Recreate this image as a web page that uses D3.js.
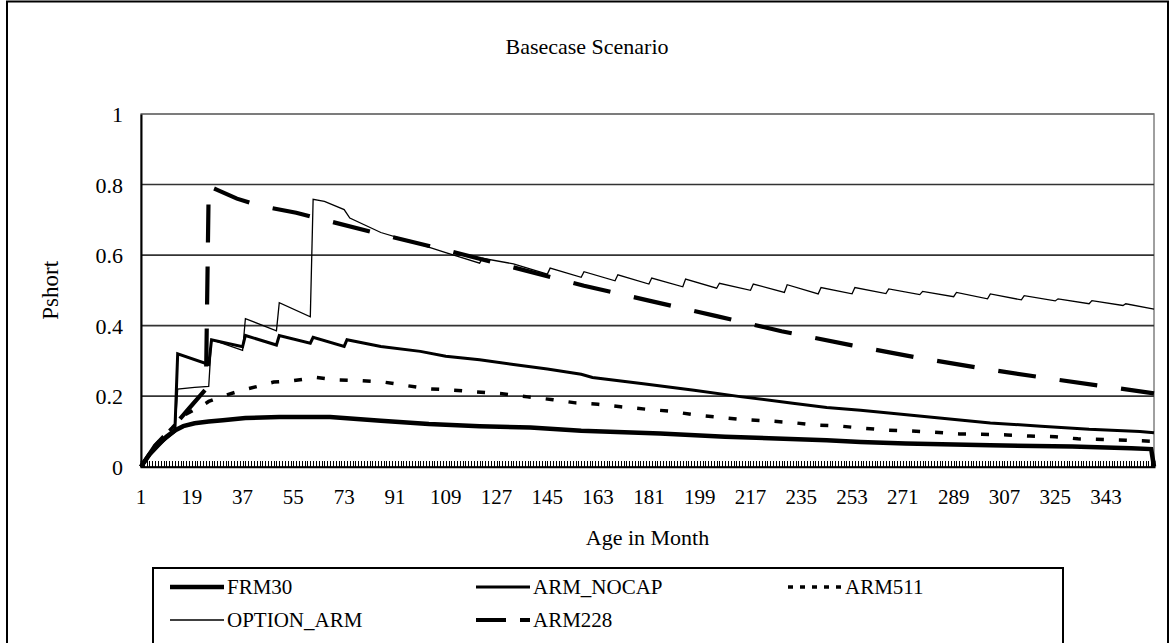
<!DOCTYPE html>
<html>
<head>
<meta charset="utf-8">
<script src="https://cdn.jsdelivr.net/npm/d3@7/dist/d3.min.js"></script>
<style>
  html, body { margin: 0; padding: 0; background: #fff; }
</style>
</head>
<body>
<svg id="chart" width="1170" height="643"></svg>
<script>
// ---------------- DATA ----------------
const chartTitle = "Basecase Scenario";
const xAxisTitle = "Age in Month";
const yAxisTitle = "Pshort";
const monthCount = 360;
const xTickLabels = [1, 19, 37, 55, 73, 91, 109, 127, 145, 163, 181, 199, 217, 235, 253, 271, 289, 307, 325, 343];
const yTickValues = [0, 0.2, 0.4, 0.6, 0.8, 1];

const seriesNames = ["FRM30", "ARM_NOCAP", "ARM511", "OPTION_ARM", "ARM228"];

const frm30Months = [1, 4, 7, 10, 13, 16, 20, 25, 30, 38, 50, 68, 86, 103, 121, 139, 157, 185, 208, 244, 256, 272, 302, 331, 352, 359, 360];
const frm30Values = [0, 0.035, 0.06, 0.085, 0.103, 0.115, 0.123, 0.128, 0.132, 0.138, 0.141, 0.141, 0.13, 0.121, 0.115, 0.111, 0.102, 0.094, 0.085, 0.075, 0.07, 0.066, 0.061, 0.057, 0.052, 0.05, 0];

const armNocapMonths = [1, 6, 13, 14, 25, 26, 37, 38, 49, 50, 61, 62, 73, 74, 86, 100, 109, 121, 133, 145, 157, 161, 179, 197, 214, 232, 244, 256, 266, 284, 302, 320, 337, 355, 360];
const armNocapValues = [0, 0.055, 0.1, 0.32, 0.29, 0.36, 0.34, 0.372, 0.345, 0.372, 0.35, 0.367, 0.341, 0.36, 0.341, 0.327, 0.313, 0.303, 0.29, 0.277, 0.262, 0.253, 0.235, 0.217, 0.198, 0.18, 0.168, 0.16, 0.152, 0.138, 0.124, 0.115, 0.106, 0.1, 0.096];

const arm511Months = [1, 6, 12, 16, 22, 25, 30, 36, 42, 48, 55, 63, 70, 79, 87, 95, 103, 112, 120, 129, 138, 147, 155, 163, 171, 180, 189, 197, 206, 214, 223, 232, 240, 249, 257, 265, 274, 282, 291, 299, 308, 316, 325, 333, 342, 350, 360];
const arm511Values = [0, 0.06, 0.11, 0.145, 0.17, 0.185, 0.2, 0.215, 0.227, 0.24, 0.244, 0.253, 0.246, 0.244, 0.24, 0.23, 0.221, 0.217, 0.212, 0.207, 0.198, 0.19, 0.181, 0.177, 0.17, 0.163, 0.157, 0.147, 0.14, 0.134, 0.13, 0.125, 0.118, 0.115, 0.109, 0.104, 0.101, 0.098, 0.093, 0.092, 0.09, 0.087, 0.085, 0.079, 0.077, 0.075, 0.072];

const optionArmMonths = [1, 4, 8, 13, 14, 20, 25, 26, 37, 38, 49, 50, 61, 62, 66, 73, 75, 86, 98, 109, 121, 122, 133, 145, 146, 157, 158, 169, 170, 181, 182, 193, 194, 205, 206, 217, 218, 229, 230, 241, 242, 253, 254, 265, 266, 277, 278, 289, 290, 301, 302, 313, 314, 325, 326, 337, 338, 349, 350, 360];
const optionArmValues = [0, 0.03, 0.065, 0.1, 0.22, 0.225, 0.228, 0.36, 0.33, 0.42, 0.385, 0.465, 0.425, 0.758, 0.752, 0.729, 0.705, 0.664, 0.635, 0.607, 0.577, 0.591, 0.575, 0.546, 0.563, 0.537, 0.553, 0.527, 0.544, 0.518, 0.535, 0.51, 0.532, 0.506, 0.52, 0.5, 0.518, 0.494, 0.516, 0.49, 0.508, 0.49, 0.508, 0.491, 0.504, 0.488, 0.497, 0.482, 0.494, 0.476, 0.49, 0.473, 0.485, 0.47, 0.476, 0.462, 0.471, 0.457, 0.462, 0.447];

const arm228Months = [1, 6, 12, 18, 24, 25, 28, 35, 43, 56, 87, 111, 134, 158, 181, 205, 228, 253, 275, 298, 322, 345, 360];
const arm228Values = [0, 0.06, 0.11, 0.165, 0.22, 0.795, 0.785, 0.76, 0.74, 0.72, 0.657, 0.61, 0.563, 0.513, 0.471, 0.427, 0.384, 0.344, 0.311, 0.28, 0.251, 0.225, 0.208];

// ---------------- LAYOUT ----------------
const FONT = '"Liberation Serif", "Times New Roman", "DejaVu Serif", serif';
const svg = d3.select("#chart");
const W = 1170, H = 643;
const plot = { left: 141, right: 1154, top: 114, bottom: 466.7 };

svg.append("rect").attr("x", 0).attr("y", 0).attr("width", W).attr("height", H).attr("fill", "#fff");
// outer chart frame (bottom cut off by the picture edge)
svg.append("rect").attr("x", 7).attr("y", 1.5).attr("width", 1161).attr("height", 700)
  .attr("fill", "none").attr("stroke", "#000").attr("stroke-width", 2);

const categories = d3.range(1, monthCount + 1);
const x = d3.scalePoint().domain(categories).range([plot.left, plot.right]).padding(0);
const y = d3.scaleLinear().domain([0, 1]).range([plot.bottom, plot.top]);

// plot area border
svg.append("rect").attr("x", plot.left).attr("y", plot.top)
  .attr("width", plot.right - plot.left).attr("height", plot.bottom - plot.top)
  .attr("fill", "none").attr("stroke", "#808080").attr("stroke-width", 1.5);

// gridlines
svg.append("g").selectAll("line").data(yTickValues.filter(v => v > 0)).join("line")
  .attr("x1", plot.left).attr("x2", plot.right)
  .attr("y1", d => y(d)).attr("y2", d => y(d))
  .attr("stroke", d => d === 1 ? "#707070" : "#333").attr("stroke-width", 1.6);

// y axis
const yAxis = d3.axisLeft(y).tickValues(yTickValues).tickSize(0).tickFormat(d => d3.format("~g")(d));
const gy = svg.append("g").attr("transform", `translate(${plot.left},0)`).call(yAxis);
gy.select(".domain").attr("stroke", "#000").attr("stroke-width", 2);
gy.selectAll("text").attr("x", -18).attr("dy", "0.35em")
  .attr("font-family", FONT).attr("font-size", 22).attr("fill", "#000");

// x axis: dense category ticks
const xAxisTicks = d3.axisBottom(x).tickValues(categories).tickSize(-6).tickFormat("");
const gx = svg.append("g").attr("transform", `translate(0,${plot.bottom})`).call(xAxisTicks);
gx.select(".domain").attr("stroke", "#000").attr("stroke-width", 2);
gx.selectAll(".tick line").attr("stroke", "#000").attr("stroke-width", 1).attr("shape-rendering", "crispEdges");

// x tick labels
svg.append("g").selectAll("text").data(xTickLabels).join("text")
  .attr("x", d => x(d)).attr("y", 497).attr("dy", "0.35em")
  .attr("text-anchor", "middle").attr("font-family", FONT).attr("font-size", 21).text(d => d);

// titles
svg.append("text").attr("x", 587).attr("y", 46).attr("dy", "0.35em").attr("text-anchor", "middle")
  .attr("font-family", FONT).attr("font-size", 22).text(chartTitle);
svg.append("text").attr("x", (plot.left + plot.right) / 2).attr("y", 537).attr("dy", "0.35em")
  .attr("text-anchor", "middle").attr("font-family", FONT).attr("font-size", 22).text(xAxisTitle);
svg.append("text").attr("transform", `translate(50,${(plot.top + plot.bottom) / 2}) rotate(-90)`)
  .attr("dy", "0.35em").attr("text-anchor", "middle").attr("font-family", FONT).attr("font-size", 23).text(yAxisTitle);

// ---------------- SERIES ----------------
const toPts = (ms, vs) => ms.map((m, i) => ({ m, v: vs[i] }));
const series = [
  { name: "FRM30", pts: toPts(frm30Months, frm30Values), width: 4.5, dash: null, legendDash: null },
  { name: "ARM_NOCAP", pts: toPts(armNocapMonths, armNocapValues), width: 3, dash: null, legendDash: null },
  { name: "ARM511", pts: toPts(arm511Months, arm511Values), width: 3.5, dash: "8,15", legendDash: "5,7" },
  { name: "OPTION_ARM", pts: toPts(optionArmMonths, optionArmValues), width: 1.3, dash: null, legendDash: null },
  { name: "ARM228", pts: toPts(arm228Months, arm228Values), width: 4.2, dash: "38,24", legendDash: "30,14" }
];
const line = d3.line().x(d => x(d.m)).y(d => y(d.v));

const gSeries = svg.append("g");
series.forEach(s => {
  gSeries.append("path").datum(s.pts).attr("d", line)
    .attr("fill", "none").attr("stroke", "#000").attr("stroke-width", s.width)
    .attr("stroke-linejoin", "miter").attr("stroke-dasharray", s.dash);
});

// ---------------- LEGEND ----------------
const legend = { x: 153, y: 568, w: 910, h: 80 };
svg.append("rect").attr("x", legend.x).attr("y", legend.y).attr("width", legend.w).attr("height", legend.h)
  .attr("fill", "#fff").attr("stroke", "#000").attr("stroke-width", 2);
const legendCols = [170, 476, 788];
const legendRows = [587, 620];
const lineLen = 54;
series.forEach((s, i) => {
  const col = i % 3, row = Math.floor(i / 3);
  const lx = legendCols[col], ly = legendRows[row];
  svg.append("line").attr("x1", lx).attr("x2", lx + lineLen).attr("y1", ly).attr("y2", ly)
    .attr("stroke", "#000").attr("stroke-width", s.width).attr("stroke-dasharray", s.legendDash);
  svg.append("text").attr("x", lx + lineLen + 3).attr("y", ly).attr("dy", "0.35em")
    .attr("font-family", FONT).attr("font-size", 21).text(s.name);
});
</script>
</body>
</html>
